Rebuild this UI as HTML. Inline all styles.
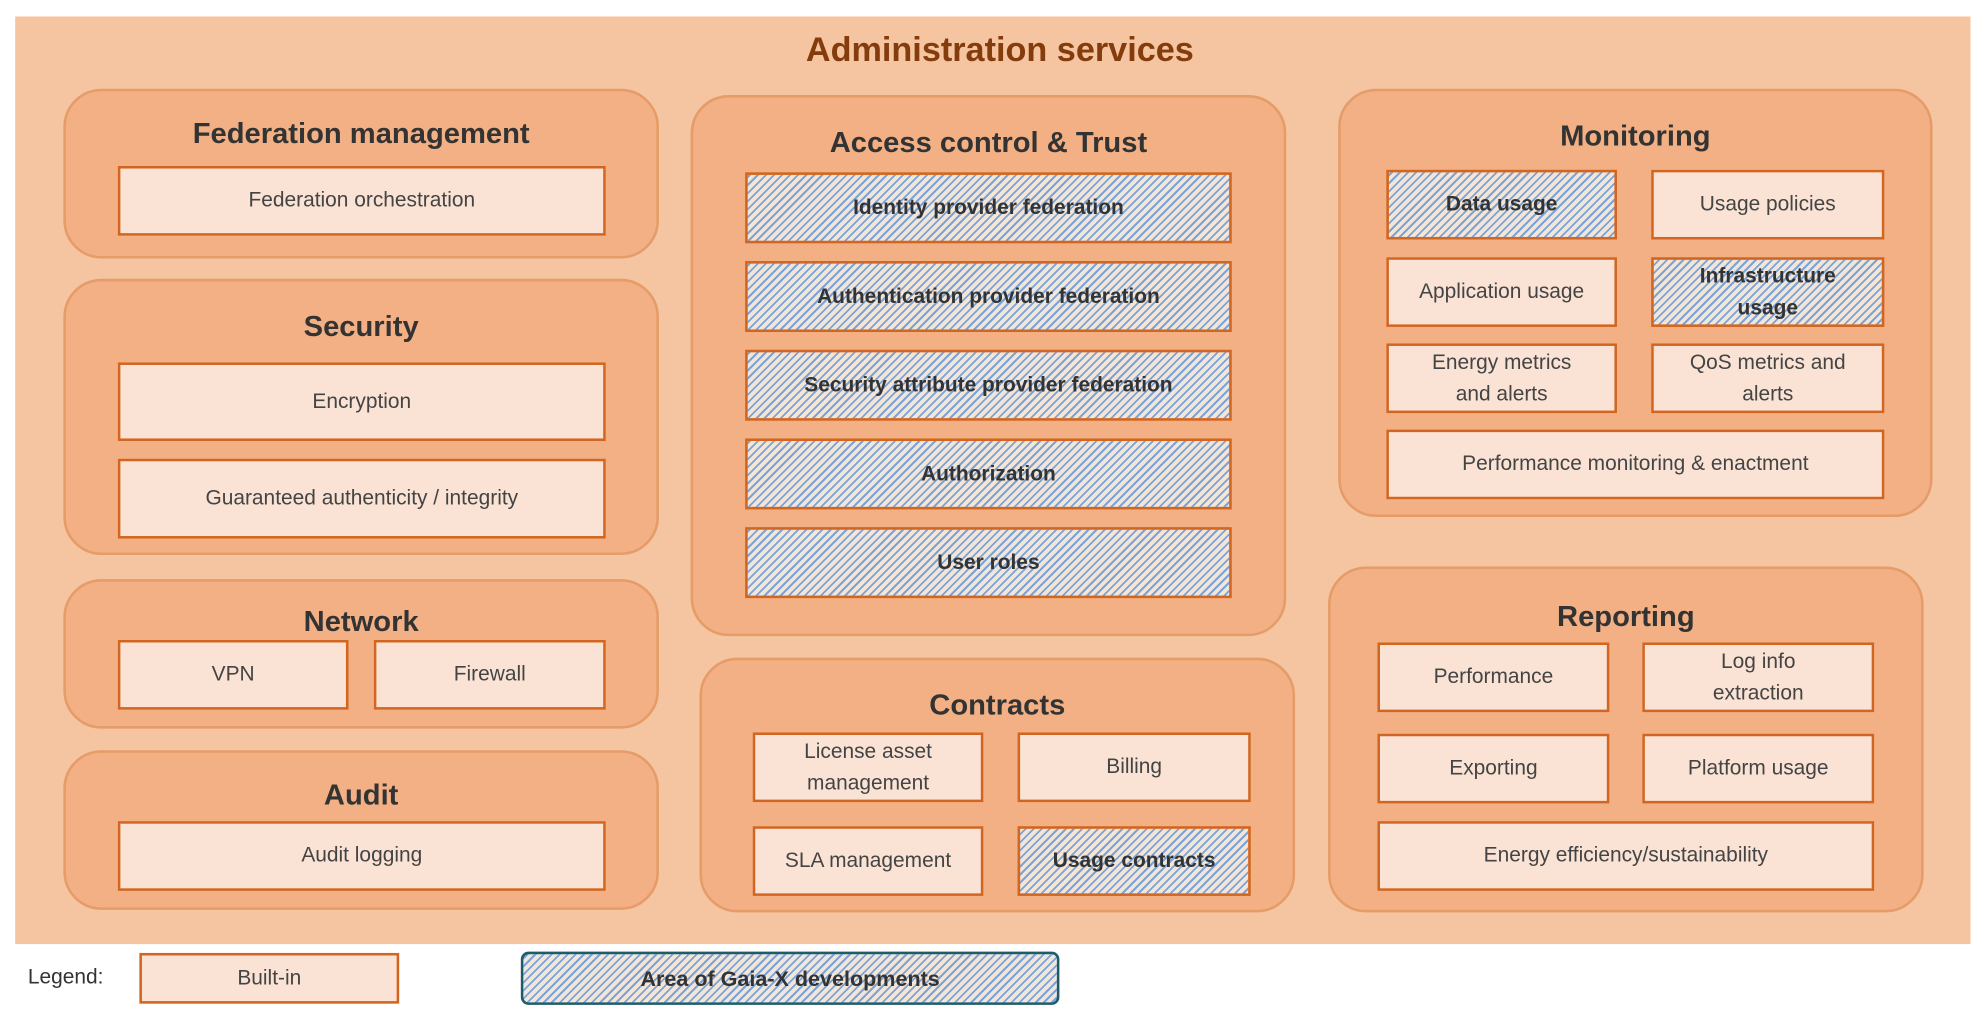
<!DOCTYPE html>
<html><head><meta charset="utf-8"><style>
html,body{margin:0;padding:0;background:#fff;overflow:hidden;width:1987px;height:1012px}
#w{position:absolute;left:0;top:0;width:1568px;height:799px;transform:scale(1.26722);transform-origin:0 0;font-family:"Liberation Sans",sans-serif;color:#404040}
.a{position:absolute;box-sizing:border-box}
.bg{left:12px;top:13px;width:1543px;height:732px;background:#f5c4a0}
.g{background:#f2b084;border:2px solid #e59c68;border-radius:30px}
.gt{position:absolute;left:0;right:0;text-align:center;font-weight:bold;font-size:23px;color:#333}
.i{background:#fae3d5;border:2px solid #d2651f;display:flex;align-items:center;justify-content:center;text-align:center;font-size:16.5px;line-height:25px;color:#444}
.h{background:repeating-linear-gradient(-45deg,#f3e6d8 0 2px,#7aa3d8 2px 3.5px,#f3e6d8 3.5px 4.5px);font-weight:bold;color:#333}
</style></head><body><div id="w">
<div class="a bg"></div>
<div class="a" style="left:0;width:1568px;top:24px;text-align:center;font-weight:bold;font-size:27px;color:#843c0c;padding-left:10px">Administration services</div>

<div class="a g" style="left:50px;top:70px;width:470px;height:134px"><div class="gt" style="top:20px">Federation management</div></div>
<div class="a i" style="left:93px;top:131px;width:385px;height:55px">Federation orchestration</div>

<div class="a g" style="left:50px;top:220px;width:470px;height:218px"><div class="gt" style="top:22px">Security</div></div>
<div class="a i" style="left:93px;top:286px;width:385px;height:62px">Encryption</div>
<div class="a i" style="left:93px;top:362px;width:385px;height:63px">Guaranteed authenticity / integrity</div>

<div class="a g" style="left:50px;top:457px;width:470px;height:118px"><div class="gt" style="top:18px">Network</div></div>
<div class="a i" style="left:93px;top:505px;width:182px;height:55px">VPN</div>
<div class="a i" style="left:295px;top:505px;width:183px;height:55px">Firewall</div>

<div class="a g" style="left:50px;top:592px;width:470px;height:126px"><div class="gt" style="top:20px">Audit</div></div>
<div class="a i" style="left:93px;top:648px;width:385px;height:55px">Audit logging</div>

<div class="a g" style="left:545px;top:75px;width:470px;height:427px"><div class="gt" style="top:22px">Access control &amp; Trust</div></div>
<div class="a i h" style="left:588px;top:136px;width:384px;height:56px">Identity provider federation</div>
<div class="a i h" style="left:588px;top:206px;width:384px;height:56px">Authentication provider federation</div>
<div class="a i h" style="left:588px;top:276px;width:384px;height:56px">Security attribute provider federation</div>
<div class="a i h" style="left:588px;top:346px;width:384px;height:56px">Authorization</div>
<div class="a i h" style="left:588px;top:416px;width:384px;height:56px">User roles</div>

<div class="a g" style="left:552px;top:519px;width:470px;height:201px"><div class="gt" style="top:22px">Contracts</div></div>
<div class="a i" style="left:594px;top:578px;width:182px;height:55px">License asset<br>management</div>
<div class="a i" style="left:803px;top:578px;width:184px;height:55px">Billing</div>
<div class="a i" style="left:594px;top:652px;width:182px;height:55px">SLA management</div>
<div class="a i h" style="left:803px;top:652px;width:184px;height:55px">Usage contracts</div>

<div class="a g" style="left:1056px;top:70px;width:469px;height:338px"><div class="gt" style="top:22px">Monitoring</div></div>
<div class="a i h" style="left:1094px;top:134px;width:182px;height:55px">Data usage</div>
<div class="a i" style="left:1303px;top:134px;width:184px;height:55px">Usage policies</div>
<div class="a i" style="left:1094px;top:203px;width:182px;height:55px">Application usage</div>
<div class="a i h" style="left:1303px;top:203px;width:184px;height:55px">Infrastructure<br>usage</div>
<div class="a i" style="left:1094px;top:271px;width:182px;height:55px">Energy metrics<br>and alerts</div>
<div class="a i" style="left:1303px;top:271px;width:184px;height:55px">QoS metrics and<br>alerts</div>
<div class="a i" style="left:1094px;top:339px;width:393px;height:55px">Performance monitoring &amp; enactment</div>

<div class="a g" style="left:1048px;top:447px;width:470px;height:273px"><div class="gt" style="top:24px">Reporting</div></div>
<div class="a i" style="left:1087px;top:507px;width:183px;height:55px">Performance</div>
<div class="a i" style="left:1296px;top:507px;width:183px;height:55px">Log info<br>extraction</div>
<div class="a i" style="left:1087px;top:579px;width:183px;height:55px">Exporting</div>
<div class="a i" style="left:1296px;top:579px;width:183px;height:55px">Platform usage</div>
<div class="a i" style="left:1087px;top:648px;width:392px;height:55px">Energy efficiency/sustainability</div>

<div class="a" style="left:22px;top:762px;font-size:16.5px;color:#333">Legend:</div>
<div class="a i" style="left:110px;top:752px;width:205px;height:40px">Built-in</div>
<div class="a i h" style="left:411px;top:751px;width:425px;height:42px;border-color:#1f5c6b;border-radius:6px;font-size:17px">Area of Gaia-X developments</div>
</div></body></html>
